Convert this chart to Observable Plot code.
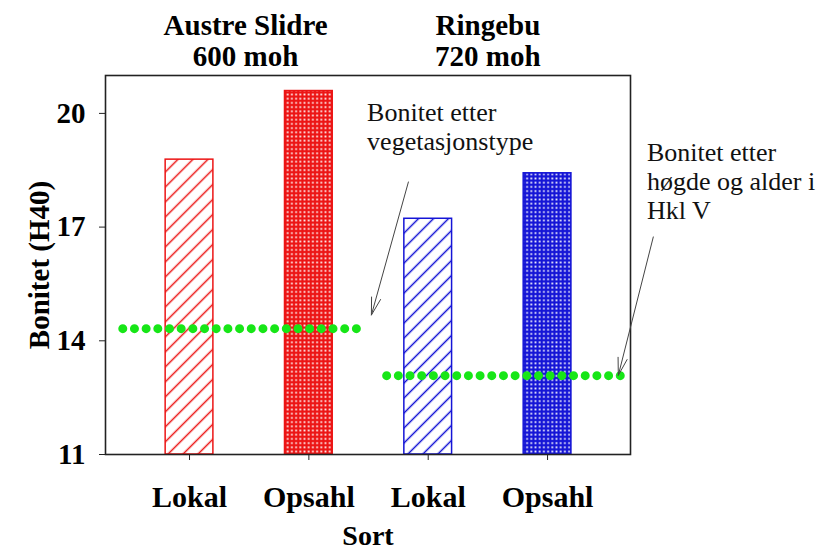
<!DOCTYPE html>
<html>
<head>
<meta charset="utf-8">
<script src="https://cdn.jsdelivr.net/npm/d3@7"></script>
<script src="https://cdn.jsdelivr.net/npm/@observablehq/plot@0.6"></script>
<style>
  html, body { margin: 0; padding: 0; background: #fff; }
  #chart svg { display: block; }
  #chart svg text { font-family: 'Liberation Serif', 'Times New Roman', serif; }
</style>
</head>
<body>
<div id="chart"></div>
<script>
// Bonitet (H40) per sort, by site
const positions = [1, 2, 3, 4];
const sites = ["Austre Slidre", "Austre Slidre", "Ringebu", "Ringebu"];
const sorts = ["Lokal", "Opsahl", "Lokal", "Opsahl"];
const bonitet = [18.78, 20.59, 17.22, 18.42];

// Site headings (name + elevation)
const siteNames = ["Austre Slidre", "Ringebu"];
const siteElevations = ["600 moh", "720 moh"];
const siteCenters = [1.47, 3.5];
const siteColors = ["#ec1515", "#1515d6"];

// Site bonitet from other methods (dotted reference levels) and their extent along x
const refLevels = [14.32, 13.08];
const refFrom = [0.445, 2.656];
const refTo = [2.41, 4.621];

// Y ticks
const yTicks = [11, 14, 17, 20];

// Annotation texts, their anchors and arrows
const noteTexts = ["Bonitet etter\nvegetasjonstype", "Bonitet etter\nhøgde og alder i\nHkl V"];
const noteX = [2.488, 4.833];
const noteY = [19.66, 18.23];
const arrowX1 = [2.834, 4.886];
const arrowY1 = [18.19, 16.74];
const arrowX2 = [2.524, 4.593];
const arrowY2 = [14.68, 13.09];

const siteIndex = s => siteNames.indexOf(s);
const bars = positions.map((p, i) => ({
  pos: p,
  site: sites[i],
  sort: sorts[i],
  value: bonitet[i],
  fill: `url(#${sorts[i] === "Lokal" ? "hatch" : "cross"}-${siteIndex(sites[i])})`,
  stroke: siteColors[siteIndex(sites[i])]
}));
const refs = refLevels.map((v, i) => ({value: v, from: refFrom[i], to: refTo[i]}));
const heads = siteNames.map((s, i) => ({x: siteCenters[i], text: `${s}\n${siteElevations[i]}`}));
const notes = noteTexts.map((t, i) => ({x: noteX[i], y: noteY[i], text: t}));
const arrows = arrowX1.map((x, i) => ({x1: x, y1: arrowY1[i], x2: arrowX2[i], y2: arrowY2[i]}));

const halfWidth = 0.2;
const serif = "'Liberation Serif', 'Times New Roman', serif";

const chart = Plot.plot({
  width: 823,
  height: 551,
  marginLeft: 105,
  marginRight: 193,
  marginTop: 75,
  marginBottom: 97,
  style: {fontFamily: serif, background: "#fff", color: "#000"},
  x: {domain: [0.296, 4.695], axis: null},
  y: {domain: [11, 21], axis: null},
  color: {type: "identity"},
  marks: [
    Plot.rectY(bars, {
      x1: d => d.pos - halfWidth,
      x2: d => d.pos + halfWidth,
      y1: 11,
      y2: "value",
      fill: "fill",
      stroke: "stroke",
      strokeWidth: 1.5
    }),
    Plot.ruleY(refs, {
      y: "value", x1: "from", x2: "to",
      stroke: "#17e617", strokeWidth: 9,
      strokeDasharray: "0 11.68", strokeLinecap: "round"
    }),
    Plot.frame({stroke: "#222", strokeWidth: 1.6}),
    Plot.axisY({
      ticks: yTicks, tickSize: 6, tickPadding: 14, fontSize: 29, fontWeight: "bold",
      fontFamily: serif, label: null, stroke: "#222"
    }),
    Plot.axisX({
      ticks: positions, tickFormat: d => sorts[positions.indexOf(d)],
      tickSize: 6, tickPadding: 25, fontSize: 30, fontWeight: "bold",
      fontFamily: serif, label: null, stroke: "#222"
    }),
    Plot.text(["Bonitet (H40)"], {
      frameAnchor: "left", rotate: -90, dx: -66,
      textAnchor: "middle", lineAnchor: "middle",
      fontSize: 29, fontWeight: "bold", fontFamily: serif, fill: "#000"
    }),
    Plot.text(["Sort"], {
      frameAnchor: "bottom", dy: 82,
      textAnchor: "middle", lineAnchor: "middle",
      fontSize: 28, fontWeight: "bold", fontFamily: serif, fill: "#000"
    }),
    Plot.text(heads, {
      x: "x", text: "text", frameAnchor: "top", dy: -35,
      lineAnchor: "middle", lineHeight: 1.08,
      fontSize: 29, fontWeight: "bold", fontFamily: serif, fill: "#000"
    }),
    Plot.text(notes, {
      x: "x", y: "y", text: "text", textAnchor: "start",
      lineAnchor: "middle", lineHeight: 1.12,
      fontSize: 26, fontFamily: serif, fill: "#111"
    }),
    Plot.arrow(arrows, {
      x1: "x1", y1: "y1", x2: "x2", y2: "y2",
      stroke: "#444", strokeWidth: 1, headAngle: 30, headLength: 27
    })
  ]
});

// Fill patterns for the bars: diagonal hatch for Lokal, dense cross-hatch for Opsahl
const defs = d3.select(chart).insert("defs", ":first-child");
siteColors.forEach((c, i) => {
  const h = defs.append("pattern")
    .attr("id", `hatch-${i}`)
    .attr("patternUnits", "userSpaceOnUse")
    .attr("width", 10.6).attr("height", 10.6)
    .attr("patternTransform", "rotate(-45)");
  h.append("rect").attr("width", 10.6).attr("height", 10.6).attr("fill", "#fff");
  h.append("line").attr("x1", -1).attr("x2", 11.6).attr("y1", 5.3).attr("y2", 5.3)
    .attr("stroke", c).attr("stroke-width", 1.5);

  const x = defs.append("pattern")
    .attr("id", `cross-${i}`)
    .attr("patternUnits", "userSpaceOnUse")
    .attr("width", 4.2).attr("height", 4.2);
  x.append("rect").attr("width", 4.2).attr("height", 4.2).attr("fill", c);
  x.append("rect").attr("x", 1.2).attr("y", 1.2).attr("width", 1.8).attr("height", 1.8)
    .attr("fill", "#fff").attr("fill-opacity", 0.9);
});

document.getElementById("chart").appendChild(chart);
</script>
</body>
</html>
